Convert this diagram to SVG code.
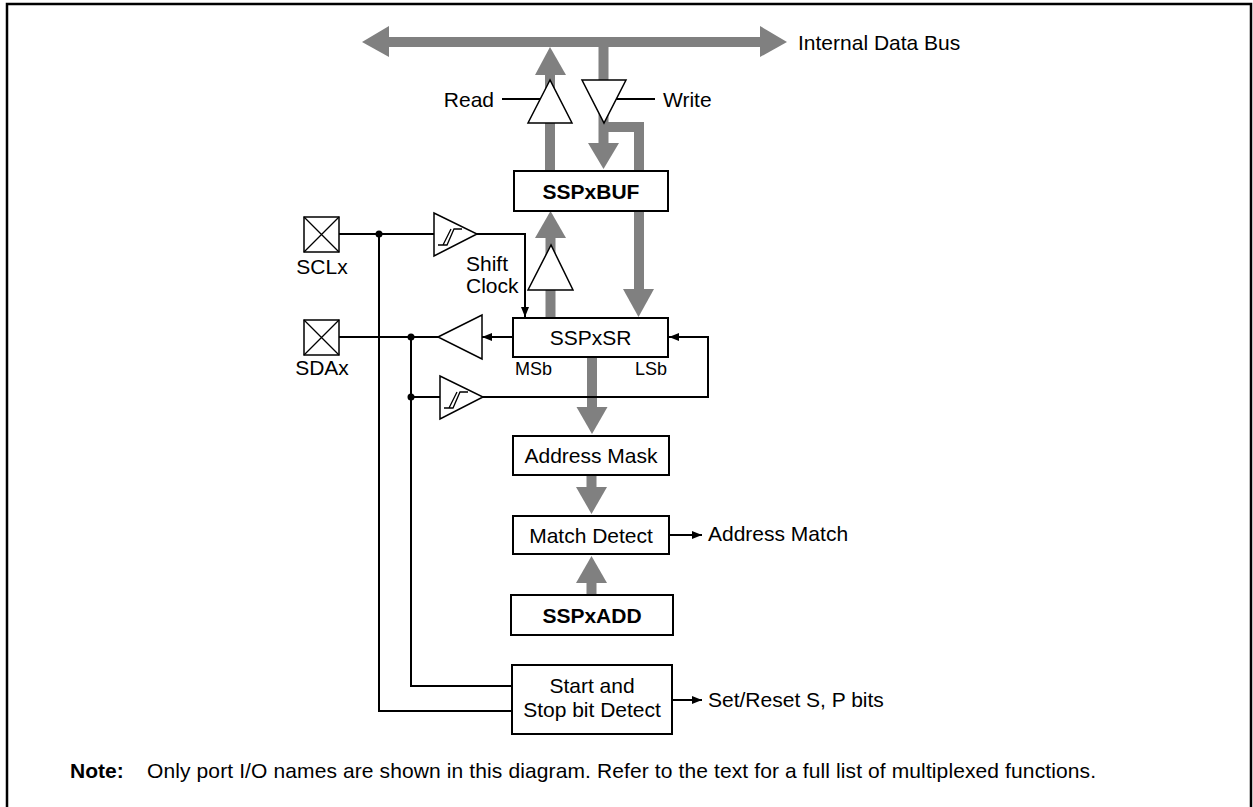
<svg xmlns="http://www.w3.org/2000/svg" width="1253" height="807" viewBox="0 0 1253 807">
<defs>
<style>
text{font-family:"Liberation Sans",Arial,sans-serif;font-size:21px;fill:#000}
.b{font-weight:bold}
.s{font-size:18px}
.box{fill:#fff;stroke:#000;stroke-width:2}
.ln{fill:none;stroke:#000;stroke-width:2}
.g{fill:#808080}
.gl{fill:none;stroke:#808080;stroke-width:10;stroke-linejoin:miter}
.tri{fill:#fff;stroke:#000;stroke-width:1.5}
.pad{fill:#fff;stroke:#000;stroke-width:1.5}
.hy{fill:none;stroke:#000;stroke-width:1.3}
</style>
<marker id="ah" viewBox="0 0 10 8" refX="10" refY="4" markerWidth="10" markerHeight="8" markerUnits="userSpaceOnUse" orient="auto">
<path d="M0,0 L10,4 L0,8 Z" fill="#000"/>
</marker>
</defs>
<rect width="1253" height="807" fill="#fff"/>
<path d="M7,807 V4 H1251 V807" fill="none" stroke="#000" stroke-width="2.5"/>

<g id="bus">
<rect class="g" x="388" y="37" width="373" height="10"/>
<polygon class="g" points="362,42 389,26 389,57"/>
<polygon class="g" points="787,42 760,26 760,57"/>
<text x="798" y="50">Internal Data Bus</text>
</g>

<g id="connectors">
<rect class="g" x="545" y="74" width="10" height="97"/>
<polygon class="g" points="550,47 535,75 566,75"/>
<rect class="g" x="598.5" y="46" width="10" height="98"/>
<polygon class="g" points="588,143 619,143 603.5,169"/>
<path class="gl" d="M603.5,127 H639 V290"/>
<polygon class="g" points="623,289 654,289 638.5,317"/>
<rect class="g" x="545.5" y="237" width="10" height="81"/>
<polygon class="g" points="535,238 566,238 550.5,211"/>
<rect class="g" x="587" y="357" width="10" height="51"/>
<polygon class="g" points="576.5,407 607.5,407 592,434"/>
<rect class="g" x="586.5" y="475" width="10" height="13"/>
<polygon class="g" points="576,487 607,487 591.5,514"/>
<rect class="g" x="586.5" y="582" width="10" height="13"/>
<polygon class="g" points="576,583 607,583 591.5,556"/>

<line class="ln" x1="502" y1="99" x2="541" y2="99"/>
<line class="ln" x1="616" y1="99" x2="655" y2="99"/>
<line class="ln" x1="339" y1="234" x2="434" y2="234"/>
<polyline class="ln" points="477,234 525,234 525,317" marker-end="url(#ah)"/>
<polyline class="ln" points="379,234 379,711 512,711"/>
<line class="ln" x1="339" y1="337" x2="438" y2="337"/>
<line class="ln" x1="513" y1="337" x2="482" y2="337" marker-end="url(#ah)"/>
<polyline class="ln" points="411,337 411,686 512,686"/>
<line class="ln" x1="411" y1="397" x2="440" y2="397"/>
<polyline class="ln" points="483,397 708,397 708,337 669,337" marker-end="url(#ah)"/>
<line class="ln" x1="669" y1="535" x2="702" y2="535" marker-end="url(#ah)"/>
<line class="ln" x1="672" y1="700" x2="702" y2="700" marker-end="url(#ah)"/>
<circle cx="379" cy="234" r="3.5"/>
<circle cx="411" cy="337" r="3.5"/>
<circle cx="411" cy="397" r="3.5"/>
</g>

<g id="read-buffer">
<polygon class="tri" points="550,80 528,123 572,123"/>
<text x="494" y="106.5" text-anchor="end">Read</text>
</g>
<g id="write-buffer">
<polygon class="tri" points="582,80 626,80 604,123"/>
<text x="663" y="106.5">Write</text>
</g>

<g id="sspxbuf">
<rect class="box" x="514" y="171" width="154" height="40"/>
<text class="b" x="591" y="198.5" text-anchor="middle">SSPxBUF</text>
</g>

<g id="sr-buffer">
<polygon class="tri" points="551,245 528,290 573,290"/>
</g>

<g id="sclx">
<rect class="pad" x="304" y="217" width="35" height="35"/>
<path class="hy" d="M304,217 L339,252 M339,217 L304,252"/>
<text x="322" y="274" text-anchor="middle">SCLx</text>
</g>
<g id="sdax">
<rect class="pad" x="304" y="320" width="35" height="35"/>
<path class="hy" d="M304,320 L339,355 M339,320 L304,355"/>
<text x="322" y="375" text-anchor="middle">SDAx</text>
</g>

<g id="schmitt-scl">
<polygon class="tri" points="434,213 434,256 477,234"/>
<path class="hy" d="M438,245 H447 L454,229 H462 M443,245 L451,229"/>
</g>
<g id="shift-clock-label">
<text x="466" y="271" font-size="19">Shift</text>
<text x="466" y="293" font-size="19">Clock</text>
</g>

<g id="sda-out-buffer">
<polygon class="tri" points="438,337 482,315 482,359"/>
</g>
<g id="schmitt-sda">
<polygon class="tri" points="440,376 440,419 483,397"/>
<path class="hy" d="M444,408 H453 L460,392 H468 M449,408 L457,392"/>
</g>

<g id="sspxsr">
<rect class="box" x="513" y="318" width="155" height="39"/>
<text x="590.5" y="345" text-anchor="middle">SSPxSR</text>
<text class="s" x="515" y="375">MSb</text>
<text class="s" x="667" y="375" text-anchor="end">LSb</text>
</g>

<g id="address-mask">
<rect class="box" x="513" y="436" width="156" height="39"/>
<text x="591" y="463" text-anchor="middle">Address Mask</text>
</g>

<g id="match-detect">
<rect class="box" x="513" y="516" width="156" height="38"/>
<text x="591" y="542.5" text-anchor="middle">Match Detect</text>
<text x="708" y="541">Address Match</text>
</g>

<g id="sspxadd">
<rect class="box" x="511" y="595" width="162" height="40"/>
<text class="b" x="592" y="622.5" text-anchor="middle">SSPxADD</text>
</g>

<g id="start-stop">
<rect class="box" x="512" y="665" width="160" height="69"/>
<text x="592" y="693" text-anchor="middle">Start and</text>
<text x="592" y="717" text-anchor="middle">Stop bit Detect</text>
<text x="708" y="707">Set/Reset S, P bits</text>
</g>

<g id="note">
<text class="b" x="70" y="778">Note:</text>
<text x="147" y="778" textLength="949" lengthAdjust="spacing">Only port I/O names are shown in this diagram. Refer to the text for a full list of multiplexed functions.</text>
</g>
</svg>
